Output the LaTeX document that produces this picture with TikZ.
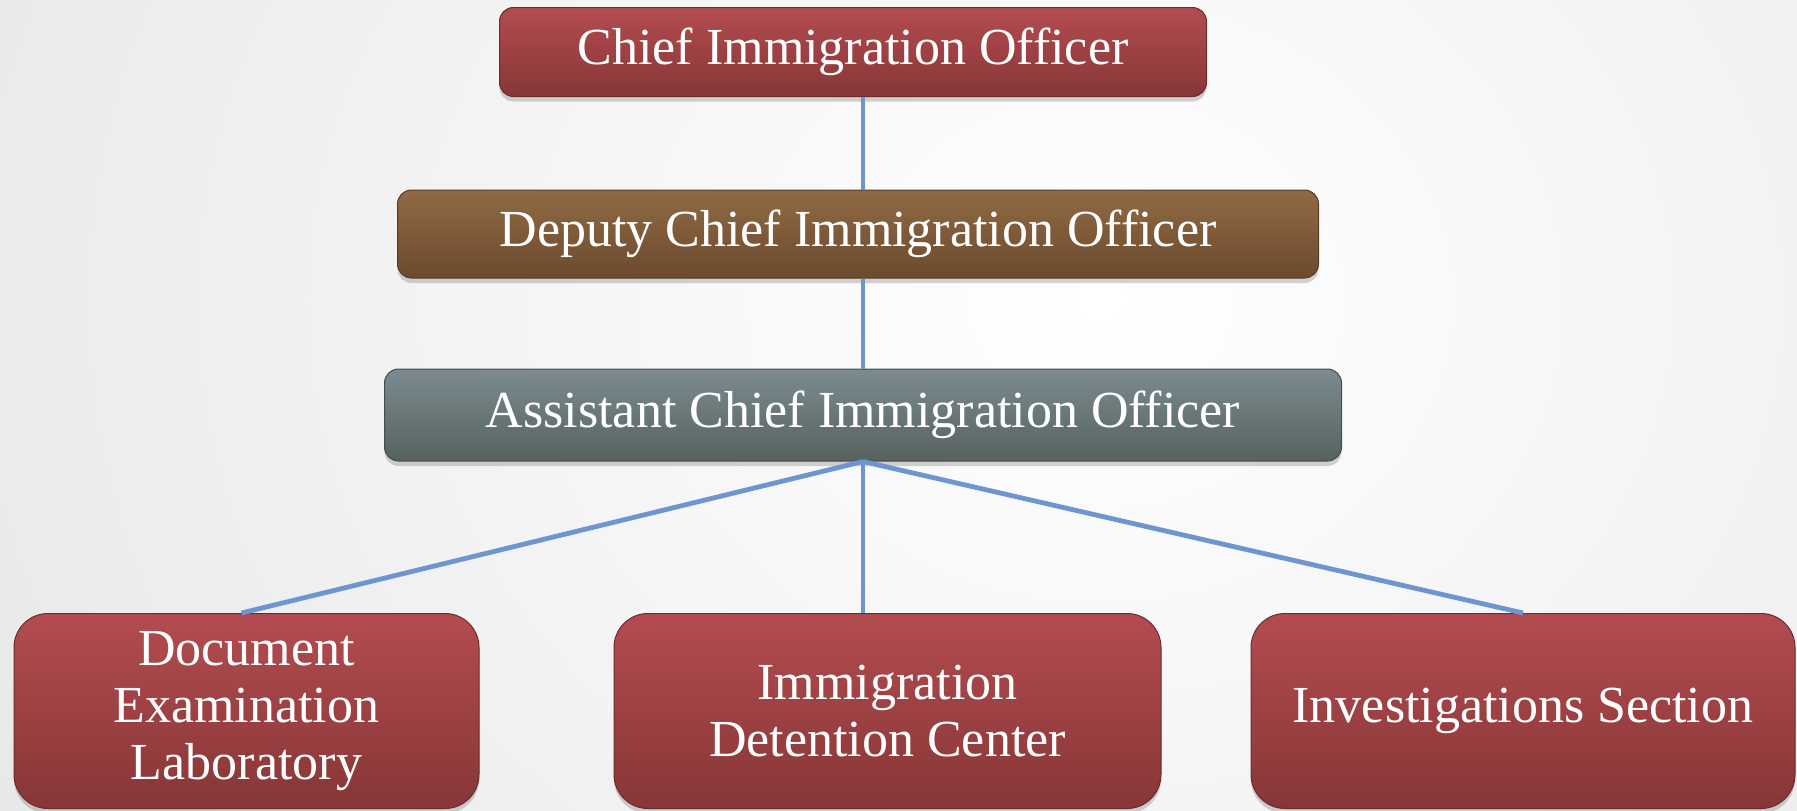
\documentclass[tikz,border=0pt]{standalone}
\usepackage{fontspec}
\setmainfont{Liberation Serif}
\usetikzlibrary{shadows,calc}
\definecolor{redtop}{HTML}{B34C50}
\definecolor{redbot}{HTML}{873637}
\definecolor{browntop}{HTML}{906A44}
\definecolor{brownbot}{HTML}{6C4A2E}
\definecolor{greytop}{HTML}{7B8B90}
\definecolor{greybot}{HTML}{56625F}
\definecolor{linkblue}{HTML}{6E95D2}
\begin{document}
\begin{tikzpicture}[x=0.5pt,y=-0.5pt,
  box/.style={rectangle, rounded corners=7pt, text=white,
    font=\fontsize{26}{28.5}\selectfont, align=center, inner sep=0pt,
    drop shadow={shadow xshift=0pt,shadow yshift=-2.5pt,opacity=0.35}},
  redbox/.style={box, top color=redtop, bottom color=redbot, draw=redbot!80!black, line width=0.5pt},
  brownbox/.style={box, top color=browntop, bottom color=brownbot, draw=brownbot!80!black, line width=0.5pt},
  greybox/.style={box, top color=greytop, bottom color=greybot, draw=greybot!80!black, line width=0.5pt},
  childbox/.style={redbox, rounded corners=17pt, minimum height=97.5pt},
  link/.style={draw=linkblue, line width=2.4pt}]
\useasboundingbox (0,0) rectangle (1797,810);
\begin{scope}
  \clip (0,0) rectangle (1797,810);
  \fill[inner color=white, outer color=gray!20] (-300,-900) rectangle (2500,1500);
\end{scope}

\node[redbox, minimum width=353.5pt, minimum height=44.5pt] (chief) at (853,52) {Chief Immigration Officer};
\node[brownbox, minimum width=460.5pt, minimum height=44pt] (deputy) at (858,234) {Deputy Chief Immigration Officer};
\node[greybox, minimum width=478.5pt, minimum height=46pt] (asst) at (863,415) {Assistant Chief Immigration Officer};

\node[childbox, minimum width=232.5pt] (doc) at (246.5,711) {Document\\Examination\\Laboratory};
\node[childbox, minimum width=273.5pt] (det) at (887.5,711) {Immigration\\Detention Center};
\node[childbox, minimum width=272pt] (inv) at (1523,711) {Investigations Section};

\draw[link] (chief.south -| asst.south) -- (deputy.north -| asst.south);
\draw[link] (deputy.south -| asst.south) -- (asst.north);
\draw[link] (asst.south) -- ([xshift=-2.5pt]doc.north);
\draw[link] (asst.south) -- (det.north -| asst.south);
\draw[link] (asst.south) -- (inv.north);
\end{tikzpicture}
\end{document}
